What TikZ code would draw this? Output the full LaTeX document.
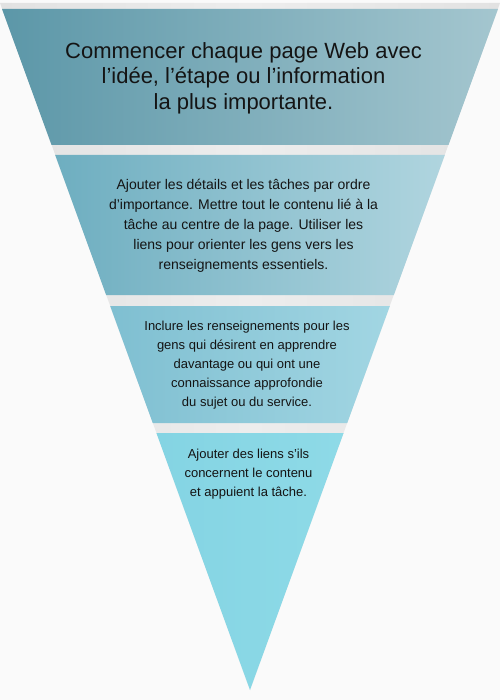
\documentclass[tikz,border=0pt]{standalone}
\usepackage{fontspec}
\setmainfont{Liberation Sans}
\definecolor{bgc}{HTML}{FAFAFA}
\definecolor{greyA}{HTML}{E2E2E2}
\definecolor{greyB}{HTML}{EDEDED}
\definecolor{bOneL}{HTML}{5C97A8}
\definecolor{bOneR}{HTML}{A4C6CF}
\definecolor{bTwoL}{HTML}{6EAEC0}
\definecolor{bTwoR}{HTML}{B0D5DF}
\definecolor{bThreeL}{HTML}{7FBFD1}
\definecolor{bThreeR}{HTML}{A2D6E3}
\definecolor{bFourL}{HTML}{84D4E3}
\definecolor{bFourR}{HTML}{8EDAE7}
\definecolor{txt}{HTML}{141414}
\begin{document}
\begin{tikzpicture}[x=1pt,y=-1pt,
  bandtext/.style={anchor=north, inner sep=0pt, align=center, text=txt},
  titletext/.style={bandtext, font=\fontsize{22}{25.5}\selectfont},
  bodytext/.style={bandtext, font=\fontsize{13}{19}\selectfont}]
\useasboundingbox (0,0) rectangle (500,700);
\fill[bgc] (0,0) rectangle (500,700);
% grey funnel behind the bands
\shade[left color=greyA, right color=greyA, middle color=greyB]
  (0,3) -- (500,3) -- (250,690) -- cycle;
% band 1
\shade[left color=bOneL, right color=bOneR]
  (2,9) -- (498,9) -- (448.47,145) -- (51.53,145) -- cycle;
% band 2
\shade[left color=bTwoL, right color=bTwoR]
  (55.17,155) -- (444.83,155) -- (393.85,295) -- (106.15,295) -- cycle;
% band 3
\shade[left color=bThreeL, right color=bThreeR]
  (110.16,306) -- (389.84,306) -- (347.23,423) -- (152.77,423) -- cycle;
% band 4
\shade[left color=bFourL, right color=bFourR]
  (156.41,433) -- (343.59,433) -- (250,690) -- cycle;
% texts
\node[titletext] (t1) at (243.5,41.9)
  {Commencer chaque page Web avec\\l’idée, l’étape ou l’information\\la plus importante.};
\node[bodytext, font=\fontsize{14}{20}\selectfont] (t2) at (243.5,178.7)
  {Ajouter les détails et les tâches par ordre\\d’importance. Mettre tout le contenu lié à la\\tâche au centre de la page. Utiliser les\\liens pour orienter les gens vers les\\renseignements essentiels.};
\node[bodytext] (t3) at (247,321.2)
  {Inclure les renseignements pour les\\gens qui désirent en apprendre\\davantage ou qui ont une\\connaissance approfondie\\du sujet ou du service.};
\node[bodytext] (t4) at (248.5,448.8)
  {Ajouter des liens s’ils\\concernent le contenu\\et appuient la tâche.};
\end{tikzpicture}
\end{document}
